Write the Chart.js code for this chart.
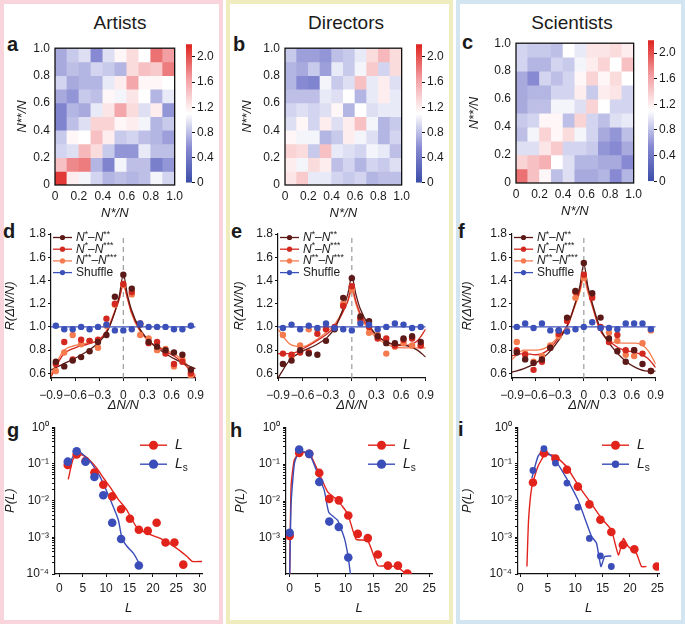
<!DOCTYPE html>
<html><head><meta charset="utf-8">
<script src="https://cdn.jsdelivr.net/npm/chart.js@4.4.0/dist/chart.umd.min.js"></script>
<style>
body{margin:0;width:685px;height:624px;background:#fff;position:relative;overflow:hidden;font-family:"Liberation Sans",Arial,sans-serif;color:#1a1a1a}
.col{position:absolute;top:0;height:624px;box-sizing:border-box;border:4px solid}
.box{position:absolute}
.ttl{position:absolute;top:12px;width:160px;font-size:19px;line-height:22px;text-align:center}
.let{position:absolute;font-size:20px;line-height:20px;font-weight:bold}
</style></head><body>
<div class="col" style="left:0;width:223px;border-color:#f9d4dd"></div>
<div class="col" style="left:226px;width:227px;border-color:#efecbe"></div>
<div class="col" style="left:456px;width:229px;border-color:#d2e5f1"></div>
<div class="ttl" style="left:40px">Artists</div>
<div class="ttl" style="left:266px">Directors</div>
<div class="ttl" style="left:492px">Scientists</div>
<div class="let" style="left:7px;top:34px">a</div>
<div class="let" style="left:233px;top:34px">b</div>
<div class="let" style="left:462px;top:32px">c</div>
<div class="let" style="left:3px;top:221px">d</div>
<div class="let" style="left:231px;top:221px">e</div>
<div class="let" style="left:458px;top:221px">f</div>
<div class="let" style="left:7px;top:420px">g</div>
<div class="let" style="left:230px;top:420px">h</div>
<div class="let" style="left:458px;top:419px">i</div>
<script>
// ---- heatmaps (rows listed top to bottom, N**/N from 1.0 down to 0) ----
const cellCenters = [0.05, 0.15, 0.25, 0.35, 0.45, 0.55, 0.65, 0.75, 0.85, 0.95];
const rowEdges = [0, 0.1, 0.2, 0.3, 0.4, 0.5, 0.6, 0.7, 0.8, 0.9, 1.0];
const artistsGrid = [
  [0.70, 0.85, 0.95, 0.55, 0.95, 1.15, 1.30, 1.10, 1.85, 1.65],
  [0.70, 0.80, 0.75, 0.90, 0.85, 0.75, 1.30, 1.45, 1.40, 1.80],
  [0.90, 0.70, 0.75, 0.75, 1.00, 1.20, 1.60, 1.15, 1.15, 1.10],
  [0.70, 0.60, 0.85, 0.80, 1.15, 1.05, 1.25, 1.10, 0.75, 1.00],
  [0.50, 0.75, 0.70, 1.00, 1.25, 1.60, 1.30, 0.95, 1.20, 0.60],
  [0.50, 0.80, 0.95, 1.35, 1.35, 1.15, 1.20, 1.05, 0.75, 0.85],
  [0.85, 1.15, 1.10, 1.45, 1.20, 0.85, 0.90, 0.80, 0.75, 0.65],
  [0.90, 0.95, 1.50, 1.30, 0.85, 0.60, 0.60, 1.00, 0.80, 0.80],
  [1.45, 1.75, 1.80, 0.75, 0.50, 1.05, 0.80, 0.80, 0.45, 0.60],
  [2.10, 1.20, 1.05, 0.90, 0.75, 0.80, 0.75, 0.80, 1.05, 0.90]
];
const directorsGrid = [
  [0.85, 0.65, 0.65, 0.60, 0.80, 0.85, 1.00, 1.30, 1.50, 1.30],
  [0.75, 0.70, 0.85, 0.65, 1.00, 0.85, 1.05, 1.40, 0.90, 1.30],
  [0.75, 0.55, 0.50, 1.05, 0.85, 0.95, 1.45, 1.00, 1.20, 0.95],
  [0.80, 0.80, 0.80, 1.00, 0.95, 1.10, 0.75, 1.00, 1.20, 1.00],
  [0.90, 0.95, 0.90, 0.95, 1.15, 0.75, 1.10, 0.95, 1.00, 1.00],
  [0.95, 1.15, 0.90, 1.20, 0.95, 1.20, 1.45, 1.05, 0.75, 0.85],
  [1.15, 1.05, 1.05, 0.75, 0.85, 1.20, 1.05, 0.95, 0.75, 0.90],
  [1.35, 1.30, 0.85, 1.45, 1.00, 0.95, 0.90, 1.05, 1.00, 0.80],
  [1.20, 1.05, 1.30, 1.20, 0.80, 0.90, 0.75, 0.90, 0.85, 0.95],
  [1.25, 1.40, 1.00, 1.00, 0.90, 0.85, 0.90, 0.75, 0.80, 0.80]
];
const scientistsGrid = [
  [0.90, 0.85, 0.85, 0.80, 1.10, 1.00, 1.25, 1.25, 1.30, 1.20],
  [0.90, 0.75, 0.75, 0.90, 0.85, 1.05, 1.20, 1.35, 1.10, 1.45],
  [0.70, 0.55, 0.90, 0.80, 0.90, 1.15, 1.35, 1.15, 1.30, 1.10],
  [0.70, 0.75, 0.75, 0.90, 0.90, 1.20, 0.85, 1.20, 1.25, 0.90],
  [0.70, 0.80, 0.80, 1.05, 1.05, 0.95, 1.35, 1.10, 0.90, 0.90],
  [0.85, 0.90, 1.15, 1.15, 0.80, 1.35, 0.90, 0.80, 0.95, 1.00],
  [0.80, 1.05, 1.35, 1.15, 1.30, 1.05, 0.90, 0.70, 0.60, 0.80],
  [0.95, 0.95, 1.25, 1.40, 0.90, 0.90, 0.85, 0.60, 0.55, 0.70],
  [1.35, 1.45, 1.55, 1.10, 0.95, 0.75, 0.75, 0.70, 0.70, 0.55],
  [1.85, 1.45, 1.15, 0.80, 0.95, 0.70, 0.70, 0.75, 0.55, 0.75]
];
const cbMax = 2.2;

// ---- R(dN/N) panels ----
const xBins = [-0.84, -0.735, -0.63, -0.525, -0.42, -0.315, -0.21, -0.105, 0, 0.105, 0.21, 0.315, 0.42, 0.525, 0.63, 0.735, 0.84];
const fitX = [-0.9, -0.75, -0.6, -0.45, -0.3, -0.2, -0.1, -0.05, 0, 0.05, 0.1, 0.2, 0.35, 0.5, 0.65, 0.8, 0.9];
const shuffleFitX = [-0.9, 0.9];

const dPts1 = [0.70, 0.66, 0.71, 0.74, 0.79, 0.87, 0.93, 1.26, 1.45, 1.33, 1.02, 0.87, 0.83, 0.80, 0.78, 0.76, 0.63];
const dPts2 = [0.68, 0.87, 0.72, 0.89, 0.88, 0.89, 1.07, 1.20, 1.37, 1.30, 1.03, 0.86, 0.87, 0.77, 0.68, 0.70, 0.60];
const dPts3 = [0.62, 0.78, 0.93, 0.85, 0.88, 0.82, 1.01, 1.19, 1.36, 1.28, 0.93, 0.90, 0.80, 0.81, 0.66, 0.72, 0.58];
const dShuf = [1.01, 0.98, 0.98, 1.00, 0.98, 1.00, 1.02, 0.97, 0.97, 0.98, 1.03, 1.00, 1.00, 1.00, 0.98, 0.98, 1.01];
const dFit1 = [0.63, 0.68, 0.73, 0.79, 0.87, 0.96, 1.14, 1.27, 1.45, 1.28, 1.15, 0.99, 0.86, 0.78, 0.72, 0.67, 0.64];
const dFit2 = [0.57, 0.76, 0.82, 0.85, 0.89, 0.97, 1.14, 1.24, 1.37, 1.25, 1.13, 0.98, 0.86, 0.80, 0.74, 0.65, 0.56];
const dFit3 = [0.59, 0.79, 0.84, 0.86, 0.89, 0.98, 1.15, 1.25, 1.36, 1.25, 1.12, 0.97, 0.86, 0.81, 0.76, 0.67, 0.58];

const ePts1 = [0.68, 0.71, 0.80, 0.77, 0.76, 0.88, 0.98, 1.25, 1.42, 1.09, 1.05, 0.92, 0.86, 0.86, 0.90, 0.92, 0.87];
const ePts2 = [0.77, 0.76, 0.78, 0.78, 0.94, 0.98, 1.00, 1.18, 1.35, 1.07, 1.00, 0.90, 0.90, 0.84, 0.89, 0.90, 0.84];
const ePts3 = [0.93, 0.75, 0.84, 0.98, 0.98, 1.00, 0.99, 1.20, 1.32, 1.05, 0.95, 0.93, 0.77, 0.83, 0.86, 0.84, 0.84];
const eShuf = [0.99, 1.02, 0.98, 1.01, 0.99, 1.03, 0.99, 0.98, 0.97, 1.03, 1.02, 0.98, 1.00, 1.03, 1.02, 0.99, 1.00];
const eFit1 = [0.56, 0.72, 0.79, 0.84, 0.91, 1.00, 1.17, 1.28, 1.43, 1.28, 1.16, 1.02, 0.90, 0.85, 0.84, 0.80, 0.74];
const eFit2 = [0.77, 0.77, 0.81, 0.87, 0.94, 1.01, 1.14, 1.22, 1.34, 1.22, 1.12, 1.00, 0.90, 0.85, 0.84, 0.88, 0.98];
const eFit3 = [0.98, 0.85, 0.83, 0.88, 0.96, 1.03, 1.15, 1.22, 1.31, 1.20, 1.10, 0.98, 0.88, 0.83, 0.82, 0.82, 0.82];

const fPts1 = [0.78, 0.72, 0.69, 0.72, 0.82, 0.97, 1.08, 1.31, 1.55, 1.29, 1.08, 0.90, 0.79, 0.70, 0.80, 0.68, 0.62];
const fPts2 = [0.80, 0.76, 0.63, 0.70, 0.82, 0.94, 1.05, 1.30, 1.45, 1.25, 1.00, 0.87, 0.93, 0.80, 0.80, 0.77, 0.62];
const fPts3 = [0.87, 0.77, 0.70, 0.75, 0.84, 0.92, 0.97, 1.25, 1.42, 1.27, 0.99, 0.95, 0.88, 0.76, 0.75, 0.86, 0.97];
const fShuf = [1.00, 1.03, 0.99, 1.03, 0.97, 0.97, 0.96, 0.98, 1.00, 1.04, 0.99, 0.99, 0.98, 1.03, 1.03, 1.03, 0.98];
const fFit1 = [0.61, 0.64, 0.69, 0.77, 0.90, 1.02, 1.22, 1.35, 1.54, 1.35, 1.22, 1.00, 0.83, 0.72, 0.65, 0.62, 0.62];
const fFit2 = [0.75, 0.77, 0.76, 0.80, 0.92, 1.02, 1.22, 1.32, 1.47, 1.33, 1.20, 0.98, 0.86, 0.80, 0.78, 0.73, 0.65];
const fFit3 = [0.72, 0.80, 0.80, 0.83, 0.93, 1.02, 1.20, 1.30, 1.42, 1.30, 1.19, 0.98, 0.87, 0.86, 0.86, 0.80, 0.68];

// ---- P(L) panels ----
const gLx = [1.8, 3.7, 5.6, 7.5, 9.4, 11.3, 13.2, 15.1, 17.0, 18.9, 20.8, 22.7, 24.6, 26.5];
const gLy = [0.093, 0.18, 0.12, 0.058, 0.027, 0.013, 0.0058, 0.0032, 0.0016, 0.0015, 0.0025, 0.00072, 0.00072, 0.00018];
const gLsx = [1.8, 3.7, 5.6, 7.5, 9.4, 11.3, 13.2, 17.0];
const gLsy = [0.115, 0.22, 0.115, 0.044, 0.014, 0.0025, 0.0009, 0.00017];
const gLfitX = [1.9, 3.0, 4.8, 6.5, 8.0, 9.5, 11.0, 12.5, 14.4, 16.6, 18.7, 21.6, 25.1, 27.3, 28.4, 30.5];
const gLfitY = [0.038, 0.14, 0.178, 0.126, 0.076, 0.04, 0.022, 0.0112, 0.0056, 0.0018, 0.0013, 0.00093, 0.0005, 0.0003, 0.00022, 0.00022];
const gLsfitX = [1.9, 3.0, 4.4, 6.6, 8.7, 10.9, 12.6, 13.4, 14.4, 15.9, 17.1];
const gLsfitY = [0.085, 0.166, 0.209, 0.115, 0.045, 0.0105, 0.003, 0.00093, 0.00058, 0.00036, 0.00019];

const hLx = [0, 1.7, 3.5, 5.3, 7.1, 8.8, 10.5, 12.2, 14.0, 15.8, 17.6, 19.4, 21.1];
const hLy = [0.00115, 0.2, 0.19, 0.058, 0.0115, 0.0105, 0.0041, 0.0013, 0.001, 0.00036, 0.00018, 0.00018, 0.00011];
const hLsx = [0, 1.7, 3.5, 5.3, 7.1, 8.8, 10.5];
const hLsy = [0.0014, 0.25, 0.19, 0.033, 0.0028, 0.002, 0.0003];
const hLfitX = [0, 0.25, 0.8, 1.7, 3.5, 5.0, 6.8, 8.6, 10.4, 11.9, 14.0, 15.8, 17.6, 19.4, 21.2];
const hLfitY = [0.0001, 0.025, 0.126, 0.2, 0.2, 0.069, 0.0178, 0.0105, 0.0045, 0.00093, 0.00085, 0.00018, 0.00018, 0.00016, 0.0001];
const hLsfitX = [0, 0.25, 0.85, 1.7, 3.5, 5.0, 6.2, 7.0, 8.6, 9.8, 10.5, 10.9];
const hLsfitY = [0.0001, 0.0085, 0.105, 0.22, 0.195, 0.056, 0.0195, 0.005, 0.003, 0.001, 0.0003, 0.0001];

const iLx = [2.3, 4.3, 6.4, 8.5, 10.5, 12.6, 14.6, 16.6, 18.7, 20.8, 24.9];
const iLy = [0.031, 0.195, 0.14, 0.069, 0.024, 0.0079, 0.003, 0.0014, 0.00062, 0.00047, 0.00016];
const iLsx = [2.3, 4.3, 6.4, 8.5, 10.5, 12.6, 14.6, 16.6];
const iLsy = [0.066, 0.26, 0.105, 0.03, 0.0066, 0.00093, 0.00031, 0.00016];
const iLfitX = [1.2, 1.5, 2.1, 3.2, 4.5, 6.3, 8.4, 10.5, 12.7, 14.8, 16.6, 17.9, 18.8, 19.7, 21.2, 22.1, 23.0];
const iLfitY = [0.00016, 0.003, 0.024, 0.085, 0.178, 0.166, 0.085, 0.027, 0.0093, 0.0033, 0.0016, 0.00033, 0.00093, 0.00056, 0.00036, 0.00016, 0.00016];
const iLsfitX = [2.1, 3.2, 4.3, 6.3, 8.4, 10.5, 12.1, 13.0, 13.9, 14.7, 15.4, 16.6];
const iLsfitY = [0.041, 0.158, 0.24, 0.129, 0.041, 0.0105, 0.0024, 0.00105, 0.00069, 0.00016, 0.0003, 0.00031];

// ---- styling ----
const FONT = '"Liberation Sans", Arial, sans-serif';
Chart.defaults.font.family = FONT;
Chart.defaults.font.size = 12;
Chart.defaults.color = '#1a1a1a';

const cDark = '#5b1a17', cRed = '#d2281f', cOrange = '#f57b4e', cBlue = '#3c50b9';
const pRed = '#e2231c', pBlue = '#3b4db8';

const cmapStops = [[0, [59, 76, 168]], [0.55, [135, 138, 210]], [1.1, [255, 255, 255]], [1.65, [243, 158, 162]], [2.2, [222, 35, 30]]];
const rgb = c => 'rgb(' + c.map(Math.round).join(',') + ')';
function cmap(v) {
  for (let k = 1; k < cmapStops.length; k++) {
    const [v0, c0] = cmapStops[k - 1], [v1, c1] = cmapStops[k];
    if (v <= v1 || k === cmapStops.length - 1) {
      const t = Math.max(0, Math.min(1, (v - v0) / (v1 - v0)));
      return rgb(c0.map((a, j) => a + (c1[j] - a) * t));
    }
  }
}

const zip = (xs, ys) => xs.map((x, i) => ({x, y: ys[i]}));
const dec1 = v => Math.abs(v) < 1e-9 ? '0' : (v < 0 ? '\u2212' : '') + Math.abs(v).toFixed(1);
const SUP = {'-': '\u207b', '0': '\u2070', '1': '\u00b9', '2': '\u00b2', '3': '\u00b3', '4': '\u2074'};
function logLabel(v) {
  const e = Math.log10(v);
  if (Math.abs(e - Math.round(e)) > 1e-6) return '';
  return '10' + String(Math.round(e)).split('').map(ch => SUP[ch]).join('');
}
const logTicks = [];
for (let e = -4; e < 0; e++) for (let m = 1; m < 10; m++) logTicks.push(+(m * Math.pow(10, e)).toPrecision(3));
logTicks.push(1);

function place(b) {
  const d = document.createElement('div');
  d.className = 'box';
  d.style.left = (b.l - b.pl) + 'px';
  d.style.top = (b.t - b.pt) + 'px';
  d.style.width = (b.pl + b.w + b.pr) + 'px';
  d.style.height = (b.pt + b.h + b.pb) + 'px';
  const c = document.createElement('canvas');
  d.appendChild(c);
  document.body.appendChild(d);
  return c;
}

function baseOpts(b) {
  return {
    responsive: true, maintainAspectRatio: false, animation: false, events: [],
    layout: {padding: {left: 0, top: b.pt, right: b.pr, bottom: 0}},
    plugins: {legend: {display: false}, tooltip: {enabled: false}}
  };
}

const framePlugin = {
  id: 'frame',
  afterDatasetsDraw(chart) {
    const {ctx, chartArea: a} = chart;
    ctx.save();
    ctx.strokeStyle = '#111';
    ctx.lineWidth = 1.3;
    ctx.strokeRect(a.left, a.top, a.right - a.left, a.bottom - a.top);
    ctx.restore();
  }
};

function legendPlugin(cfg) {
  return {
    id: 'innerLegend',
    afterDatasetsDraw(chart) {
      const {ctx, chartArea: a} = chart;
      ctx.save();
      cfg.items.forEach((it, k) => {
        const y = a.top + cfg.dy + k * cfg.gap;
        const x = a.left + cfg.dx;
        ctx.strokeStyle = it.color;
        ctx.lineWidth = cfg.lw;
        ctx.beginPath(); ctx.moveTo(x, y); ctx.lineTo(x + cfg.len, y); ctx.stroke();
        ctx.fillStyle = it.color;
        ctx.beginPath(); ctx.arc(x + cfg.len / 2, y, it.r, 0, Math.PI * 2); ctx.fill();
        let tx = x + cfg.len + cfg.pad;
        ctx.fillStyle = '#1a1a1a';
        ctx.textBaseline = 'middle';
        ctx.textAlign = 'left';
        it.text.forEach(([s, st]) => {
          const small = st === 'sup' || st === 'sub';
          const size = small ? cfg.size * 0.72 : cfg.size;
          ctx.font = (st === 'i' ? 'italic ' : '') + size + 'px ' + FONT;
          const dy = st === 'sup' ? -cfg.size * 0.28 : st === 'sub' ? cfg.size * 0.32 : 0;
          ctx.fillText(s, tx, y + dy);
          tx += ctx.measureText(s).width;
        });
      });
      ctx.restore();
    }
  };
}

const titleFont = {size: 13, style: 'italic'};
const flatTicks = {maxRotation: 0, minRotation: 0, autoSkip: false};

// ---- row 1: heatmaps + colour bars ----
function heatmap(grid, b) {
  const datasets = grid.map((row, r) => ({
    data: row.map((v, i) => ({x: cellCenters[i], y: [rowEdges[9 - r], rowEdges[10 - r]]})),
    backgroundColor: row.map(cmap),
    borderWidth: 0, grouped: false, barPercentage: 1, categoryPercentage: 1
  }));
  const opts = baseOpts(b);
  opts.scales = {
    x: {type: 'linear', min: 0, max: 1, offset: false, grid: {display: false, drawTicks: false}, border: {display: false},
        ticks: {...flatTicks, stepSize: 0.2, padding: 4, callback: v => v === 0 ? '0' : v.toFixed(1)},
        title: {display: true, text: 'N*/N', font: titleFont, padding: 0},
        afterFit: s => { s.height = b.pb; }},
    y: {type: 'linear', min: 0, max: 1, grid: {display: false, drawTicks: false}, border: {display: false},
        ticks: {...flatTicks, stepSize: 0.2, padding: 5, callback: v => v === 0 ? '0' : v.toFixed(1)},
        title: {display: true, text: 'N**/N', font: titleFont, padding: 0},
        afterFit: s => { s.width = b.pl; }}
  };
  new Chart(place(b), {type: 'bar', data: {datasets}, options: opts, plugins: [framePlugin]});
}

function colorbar(b) {
  const opts = baseOpts(b);
  opts.layout.padding = {left: 0, top: b.pt, right: 0, bottom: b.pb};
  opts.scales = {
    x: {display: false},
    y: {position: 'right', min: 0, max: cbMax, grid: {display: true, drawOnChartArea: false, tickLength: 3, color: '#111', lineWidth: 1},
        border: {display: false},
        ticks: {...flatTicks, stepSize: 0.4, includeBounds: false, padding: 2, callback: v => v === 0 ? '0' : v.toFixed(1)},
        afterFit: s => { s.width = b.pr; }}
  };
  new Chart(place(b), {
    type: 'bar',
    data: {labels: [''], datasets: [{data: [[0, cbMax]], barPercentage: 1, categoryPercentage: 1, borderWidth: 0,
      backgroundColor: ctx => {
        const ys = ctx.chart.scales.y;
        if (!ys) return '#fff';
        const y0 = ys.getPixelForValue(0), y1 = ys.getPixelForValue(cbMax);
        if (!isFinite(y0) || !isFinite(y1) || y0 === y1) return '#fff';
        const g = ctx.chart.ctx.createLinearGradient(0, y0, 0, y1);
        cmapStops.forEach(s => g.addColorStop(s[0] / cbMax, rgb(s[1])));
        return g;
      }}]},
    options: opts
  });
}

heatmap(artistsGrid, {l: 55, t: 43.5, w: 122, h: 141, pl: 40, pr: 10, pt: 8, pb: 36});
heatmap(directorsGrid, {l: 285, t: 44, w: 119, h: 141, pl: 45, pr: 10, pt: 8, pb: 36});
heatmap(scientistsGrid, {l: 516, t: 38.5, w: 120, h: 144, pl: 49, pr: 10, pt: 8, pb: 36});
colorbar({l: 186, t: 43, w: 6, h: 141, pl: 0, pr: 28, pt: 8, pb: 8});
colorbar({l: 416, t: 43, w: 6, h: 141, pl: 0, pr: 28, pt: 8, pb: 8});
colorbar({l: 648, t: 38.5, w: 6, h: 143.5, pl: 0, pr: 28, pt: 8, pb: 8});

// ---- row 2: R(dN/N) ----
const corrLegend = {dx: 2, dy: 3.5, gap: 11.7, len: 19, pad: 4, lw: 1.3, size: 12, items: [
  {color: cDark, r: 2.6, text: [['N', 'i'], ['*', 'sup'], ['\u2013', ''], ['N', 'i'], ['**', 'sup']]},
  {color: cRed, r: 2.6, text: [['N', 'i'], ['*', 'sup'], ['\u2013', ''], ['N', 'i'], ['***', 'sup']]},
  {color: cOrange, r: 2.6, text: [['N', 'i'], ['**', 'sup'], ['\u2013', ''], ['N', 'i'], ['***', 'sup']]},
  {color: cBlue, r: 2.6, text: [['Shuffle', '']]}
]};

function corrChart(b, p1, p2, p3, sh, f1, f2, f3) {
  const pt = (data, c) => ({data: zip(xBins, data), backgroundColor: c, borderColor: c, pointRadius: 3.2, pointBorderWidth: 0, showLine: false});
  const fit = (xs, data, c) => ({data: zip(xs, data), borderColor: c, borderWidth: 1.3, pointRadius: 0, showLine: true, cubicInterpolationMode: 'monotone'});
  const datasets = [
    pt(sh, cBlue),
    fit(shuffleFitX, [1.0, 1.0], cBlue),
    pt(p1, cDark), pt(p2, cRed), pt(p3, cOrange),
    fit(fitX, f1, cDark), fit(fitX, f2, cRed), fit(fitX, f3, cOrange),
    {data: [{x: 0, y: 0.56}, {x: 0, y: 1.8}], borderColor: '#9a9a9a', borderWidth: 1.2, borderDash: [5, 4], pointRadius: 0, showLine: true}
  ];
  const opts = baseOpts(b);
  opts.scales = {
    x: {type: 'linear', min: -0.9, max: 0.9,
        grid: {display: true, drawOnChartArea: false, tickLength: 3, color: '#111'}, border: {display: true, color: '#111', width: 1.2},
        ticks: {...flatTicks, stepSize: 0.3, padding: 7, includeBounds: false, callback: dec1},
        title: {display: true, text: '\u0394N/N', font: titleFont, padding: 0},
        afterFit: s => { s.height = b.pb; }},
    y: {type: 'linear', min: 0.56, max: 1.8,
        grid: {display: true, drawOnChartArea: false, tickLength: 3, color: '#111'}, border: {display: true, color: '#111', width: 1.2},
        ticks: {...flatTicks, stepSize: 0.2, padding: 2, includeBounds: false, callback: dec1},
        title: {display: true, text: 'R(\u0394N/N)', font: titleFont, padding: 0},
        afterFit: s => { s.width = b.pl; }}
  };
  new Chart(place(b), {type: 'scatter', data: {datasets}, options: opts, plugins: [legendPlugin(corrLegend)]});
}

corrChart({l: 51, t: 234, w: 148, h: 144, pl: 48, pr: 12, pt: 10, pb: 35}, dPts1, dPts2, dPts3, dShuf, dFit1, dFit2, dFit3);
corrChart({l: 278, t: 234, w: 151, h: 144, pl: 46, pr: 12, pt: 10, pb: 35}, ePts1, ePts2, ePts3, eShuf, eFit1, eFit2, eFit3);
corrChart({l: 512, t: 234, w: 147, h: 144, pl: 52, pr: 12, pt: 10, pb: 35}, fPts1, fPts2, fPts3, fShuf, fFit1, fFit2, fFit3);

// ---- row 3: P(L) ----
function lenChart(b, xr, xmax, ymin, L, Ls, lsR) {
  const datasets = [
    {data: zip(Ls[0], Ls[1]), backgroundColor: pBlue, pointRadius: lsR, pointBorderWidth: 0, showLine: false},
    {data: zip(L[0], L[1]), backgroundColor: pRed, pointRadius: 4.3, pointBorderWidth: 0, showLine: false},
    {data: zip(Ls[2], Ls[3]), borderColor: pBlue, borderWidth: 1.4, pointRadius: 0, showLine: true, tension: 0.15},
    {data: zip(L[2], L[3]), borderColor: pRed, borderWidth: 1.4, pointRadius: 0, showLine: true, tension: 0.15}
  ];
  const opts = baseOpts(b);
  opts.scales = {
    x: {type: 'linear', min: xr, max: xmax,
        grid: {display: true, drawOnChartArea: false, tickLength: 3, color: '#111'}, border: {display: true, color: '#111', width: 1.2},
        ticks: {...flatTicks, stepSize: 5, padding: 4, includeBounds: false},
        title: {display: true, text: 'L', font: titleFont, padding: 0},
        afterFit: s => { s.height = b.pb; }},
    y: {type: 'logarithmic', min: ymin, max: 1,
        grid: {display: true, drawOnChartArea: false, tickLength: 3, color: '#111'}, border: {display: true, color: '#111', width: 1.2},
        ticks: {...flatTicks, padding: 3, callback: logLabel},
        afterBuildTicks: s => { s.ticks = logTicks.filter(v => v >= ymin * 0.999 && v <= 1.0001).map(v => ({value: v})); },
        title: {display: true, text: 'P(L)', font: titleFont, padding: 0},
        afterFit: s => { s.width = b.pl; }}
  };
  const lg = {dx: b.lgx, dy: 18, gap: 19, len: 27, pad: 8, lw: 1.4, size: 14, items: [
    {color: pRed, r: 4.5, text: [['L', 'i']]},
    {color: pBlue, r: lsR + 0.3, text: [['L', 'i'], ['s', 'sub']]}
  ]};
  new Chart(place(b), {type: 'scatter', data: {datasets}, options: opts, plugins: [legendPlugin(lg)]});
}

lenChart({l: 55, t: 427, w: 147, h: 147, pl: 52, pr: 12, pt: 10, pb: 42, lgx: 85}, -0.93, 30.5, 1e-4,
  [gLx, gLy, gLfitX, gLfitY], [gLsx, gLsy, gLsfitX, gLsfitY], 4.3);
lenChart({l: 286, t: 427, w: 146, h: 147, pl: 53, pr: 12, pt: 10, pb: 42, lgx: 82}, -0.66, 25.5, 1.07e-4,
  [hLx, hLy, hLfitX, hLfitY], [hLsx, hLsy, hLsfitX, hLsfitY], 4.3);
lenChart({l: 518, t: 427, w: 141, h: 147, pl: 58, pr: 12, pt: 10, pb: 42, lgx: 84}, -0.43, 25.3, 1e-4,
  [iLx, iLy, iLfitX, iLfitY], [iLsx, iLsy, iLsfitX, iLsfitY], 3.4);
</script>
</body></html>
